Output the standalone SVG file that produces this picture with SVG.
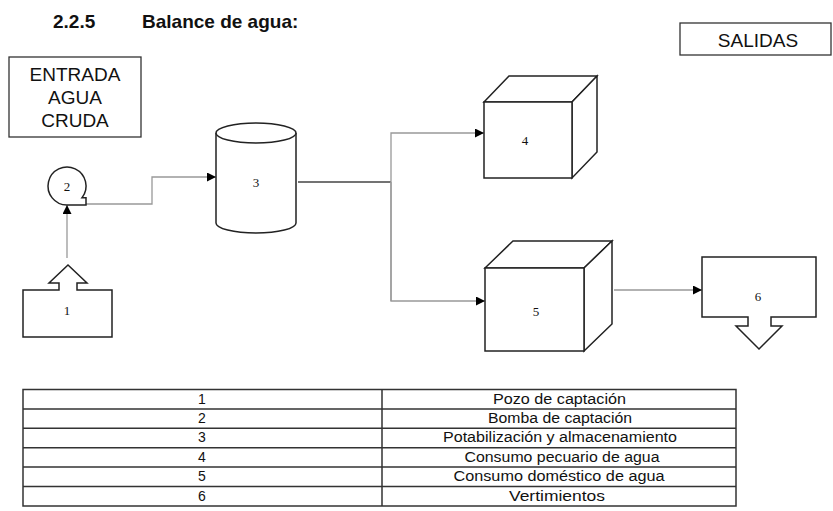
<svg xmlns="http://www.w3.org/2000/svg" width="833" height="511" viewBox="0 0 833 511">
<style>
.shape{fill:#fff;stroke:#222;stroke-width:1.5;stroke-linejoin:miter}
.box{fill:#fff;stroke:#333;stroke-width:1.3}
.conn{fill:none;stroke:#999;stroke-width:1.3}
.dark{fill:none;stroke:#444;stroke-width:1.3}
.lbl{font-family:"Liberation Serif",serif;font-size:13px;fill:#111;text-anchor:middle}
.head{font-family:"Liberation Sans",Arial,sans-serif;font-size:19px;fill:#111;text-anchor:middle}
.title{font-family:"Liberation Sans",Arial,sans-serif;font-size:19px;font-weight:bold;fill:#111}
.cell{font-family:"Liberation Sans",Arial,sans-serif;font-size:14px;fill:#111;text-anchor:middle}
.grid{stroke:#333;stroke-width:1.5;fill:none}
</style>
<defs>
<marker id="arr" viewBox="0 0 10 10" refX="10" refY="5" markerWidth="10" markerHeight="9" markerUnits="userSpaceOnUse" orient="auto">
<path d="M0,0 L10,5 L0,10 Z" fill="#000"/>
</marker>
</defs>
<rect width="833" height="511" fill="#fff"/>

<g id="title">
<text class="title" x="53" y="28">2.2.5</text>
<text class="title" x="142" y="28">Balance de agua:</text>
</g>

<g id="entrada">
<rect class="box" x="9" y="57" width="132" height="80"/>
<text class="head" x="75" y="81">ENTRADA</text>
<text class="head" x="75" y="104">AGUA</text>
<text class="head" x="75" y="127">CRUDA</text>
</g>

<g id="salidas">
<rect class="box" x="680" y="23" width="151" height="32"/>
<text class="head" x="758" y="47">SALIDAS</text>
</g>

<g id="connectors">
<path class="conn" d="M67,258 L67,205" marker-end="url(#arr)"/>
<path class="conn" d="M86,204 L152,204 L152,177 L216,177" marker-end="url(#arr)"/>
<path class="dark" d="M298,182 L391,182"/>
<path class="conn" d="M391,301 L391,133 L484,133" marker-end="url(#arr)"/>
<path class="conn" d="M391,182 L391,301 L485,301" marker-end="url(#arr)"/>
<path class="conn" d="M614,290 L702,290" marker-end="url(#arr)"/>
</g>

<g id="node1">
<path class="shape" d="M23,290 L59,290 L59,283 L49,283 L68,265 L87,283 L77,283 L77,290 L112,290 L112,337 L23,337 Z"/>
<text class="lbl" x="67" y="315">1</text>
</g>

<g id="node2">
<path class="shape" d="M67,205 A19,19 0 1 1 82,197.7 L86,197.7 L86,205 Z"/>
<text class="lbl" x="67" y="191">2</text>
</g>

<g id="node3">
<path class="shape" d="M216,133 L216,223 A40,10 0 0 0 296,223 L296,133"/>
<ellipse class="shape" cx="256" cy="133" rx="40" ry="10"/>
<text class="lbl" x="256" y="187">3</text>
</g>

<g id="node4">
<path class="shape" d="M484,102 L509,76 L597,76 L572,102 Z"/>
<path class="shape" d="M572,102 L597,76 L597,152 L572,178 Z"/>
<rect class="shape" x="484" y="102" width="88" height="76"/>
<text class="lbl" x="525" y="145">4</text>
</g>

<g id="node5">
<path class="shape" d="M485,268 L513,241 L612,241 L584,268 Z"/>
<path class="shape" d="M584,268 L612,241 L612,324 L584,351 Z"/>
<rect class="shape" x="485" y="268" width="99" height="83"/>
<text class="lbl" x="536" y="316">5</text>
</g>

<g id="node6">
<path class="shape" d="M702,257 L816,257 L816,317 L771,317 L771,326 L782,326 L759,349 L736,326 L748,326 L748,317 L702,317 Z"/>
<text class="lbl" x="758" y="301">6</text>
</g>

<g id="table">
<rect class="grid" x="23" y="389.5" width="713" height="116.5"/>
<path class="grid" d="M382,389.5 L382,506 M23,408.9 L736,408.9 M23,428.3 L736,428.3 M23,447.7 L736,447.7 M23,467.1 L736,467.1 M23,486.5 L736,486.5"/>
<text class="cell" x="202" y="403.5">1</text>
<text class="cell" x="202" y="422.9">2</text>
<text class="cell" x="202" y="442.3">3</text>
<text class="cell" x="202" y="461.7">4</text>
<text class="cell" x="202" y="481.1">5</text>
<text class="cell" x="202" y="500.5">6</text>
<text class="cell" x="559.5" y="403.5" textLength="133" lengthAdjust="spacingAndGlyphs">Pozo de captación</text>
<text class="cell" x="560" y="422.9" textLength="144" lengthAdjust="spacingAndGlyphs">Bomba de captación</text>
<text class="cell" x="560" y="442.3" textLength="234" lengthAdjust="spacingAndGlyphs">Potabilización y almacenamiento</text>
<text class="cell" x="562" y="461.7" textLength="195" lengthAdjust="spacingAndGlyphs">Consumo pecuario de agua</text>
<text class="cell" x="559" y="481.1" textLength="211" lengthAdjust="spacingAndGlyphs">Consumo doméstico de agua</text>
<text class="cell" x="557" y="500.5" textLength="96" lengthAdjust="spacingAndGlyphs">Vertimientos</text>
</g>
</svg>
